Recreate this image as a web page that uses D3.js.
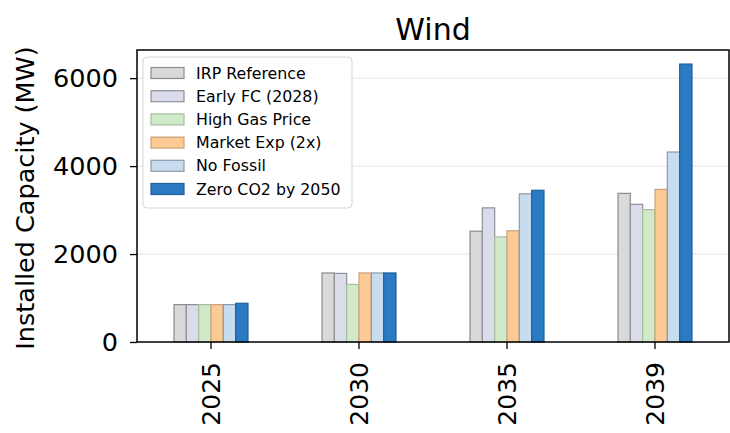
<!DOCTYPE html>
<html>
<head>
<meta charset="utf-8">
<script src="https://cdn.jsdelivr.net/npm/d3@7"></script>
<style>
  html, body { margin: 0; padding: 0; background: #fff; }
  svg { display: block; font-family: "DejaVu Sans", sans-serif; }
</style>
</head>
<body>
<svg id="chart" width="730" height="433"></svg>
<script>
// Installed wind capacity (MW) by scenario and year
const years = ["2025", "2030", "2035", "2039"];
const scenarios = ["IRP Reference", "Early FC (2028)", "High Gas Price", "Market Exp (2x)", "No Fossil", "Zero CO2 by 2050"];
const irpReference = [850, 1570, 2520, 3380];
const earlyFC = [850, 1560, 3050, 3130];
const highGas = [850, 1310, 2390, 3010];
const marketExp = [850, 1570, 2530, 3470];
const noFossil = [850, 1570, 3370, 4320];
const zeroCO2 = [880, 1570, 3450, 6320];
const yTicks = [0, 2000, 4000, 6000];

const seriesValues = [irpReference, earlyFC, highGas, marketExp, noFossil, zeroCO2];
const fills = ["#d9d9d9", "#dadcec", "#cfe9c9", "#fdca95", "#c8dcf0", "#2b7bc4"];
const strokes = ["#8c8c8c", "#8f8f9c", "#a5bfa0", "#c9a27a", "#8e9aa8", "#1f5f9a"];

const svg = d3.select("#chart");
const m = { left: 137, right: 729, top: 50, bottom: 342 };

const x = d3.scaleBand().domain(years).range([m.left, m.right]).padding(0);
const groupW = x.bandwidth() * 0.5;
const xi = d3.scaleBand().domain(d3.range(scenarios.length)).range([-groupW / 2, groupW / 2]);
const y = d3.scaleLinear().domain([0, 6640]).range([m.bottom, m.top]);

// horizontal grid lines
svg.append("g").selectAll("line").data(yTicks.filter(d => d > 0)).join("line")
  .attr("x1", m.left).attr("x2", m.right)
  .attr("y1", d => y(d)).attr("y2", d => y(d))
  .attr("stroke", "#e3e3e3").attr("stroke-width", 1);

// bars
seriesValues.forEach((vals, si) => {
  svg.append("g").selectAll("rect").data(years).join("rect")
    .attr("x", d => x(d) + x.bandwidth() / 2 + xi(si))
    .attr("width", xi.bandwidth())
    .attr("y", (d, i) => y(vals[i]))
    .attr("height", (d, i) => y(0) - y(vals[i]))
    .attr("fill", fills[si])
    .attr("stroke", strokes[si])
    .attr("stroke-width", 1.2);
});

// y axis
const yAxis = d3.axisLeft(y).tickValues(yTicks).tickSize(7).tickPadding(12).tickFormat(d3.format("d"));
svg.append("g").attr("transform", `translate(${m.left},0)`).call(yAxis)
  .call(g => g.select(".domain").remove())
  .call(g => g.selectAll("line").attr("stroke", "#000").attr("stroke-width", 1.3))
  .call(g => g.selectAll("text").attr("font-size", 25.5).attr("fill", "#000")
    .attr("font-family", "DejaVu Sans"));

// x axis with rotated year labels
const xAxis = d3.axisBottom(x).tickSize(7).tickPadding(0);
svg.append("g").attr("transform", `translate(0,${m.bottom})`).call(xAxis)
  .call(g => g.select(".domain").remove())
  .call(g => g.selectAll("line").attr("stroke", "#000").attr("stroke-width", 1.3))
  .call(g => g.selectAll("text")
    .attr("font-size", 25).attr("fill", "#000").attr("font-family", "DejaVu Sans")
    .attr("text-anchor", "end").attr("dy", null).attr("y", 0)
    .attr("transform", "translate(0,20) rotate(-90)")
    .attr("dominant-baseline", "central"));

// frame
svg.append("rect")
  .attr("x", m.left).attr("y", m.top)
  .attr("width", m.right - m.left).attr("height", m.bottom - m.top)
  .attr("fill", "none").attr("stroke", "#000").attr("stroke-width", 1.5);

// title and axis label
svg.append("text").attr("x", (m.left + m.right) / 2).attr("y", 40)
  .attr("text-anchor", "middle").attr("font-size", 30).attr("fill", "#000").text("Wind");
svg.append("text")
  .attr("transform", `translate(25,${(m.top + m.bottom) / 2 + 2}) rotate(-90)`)
  .attr("text-anchor", "middle").attr("dominant-baseline", "central")
  .attr("font-size", 25.5).attr("fill", "#000").text("Installed Capacity (MW)");

// legend
const lg = svg.append("g").attr("transform", "translate(143,57)");
lg.append("rect").attr("width", 209).attr("height", 151).attr("rx", 4)
  .attr("fill", "#fff").attr("fill-opacity", 0.85).attr("stroke", "#d6d6d6");
scenarios.forEach((s, i) => {
  const row = lg.append("g").attr("transform", `translate(0,${16 + i * 23.2})`);
  row.append("rect").attr("x", 8).attr("y", -5.5).attr("width", 33).attr("height", 11)
    .attr("fill", fills[i]).attr("stroke", strokes[i]).attr("stroke-width", 1.2);
  row.append("text").attr("x", 53).attr("y", 0).attr("dominant-baseline", "central")
    .attr("font-size", 15.8).attr("fill", "#000").text(s);
});
</script>
</body>
</html>
